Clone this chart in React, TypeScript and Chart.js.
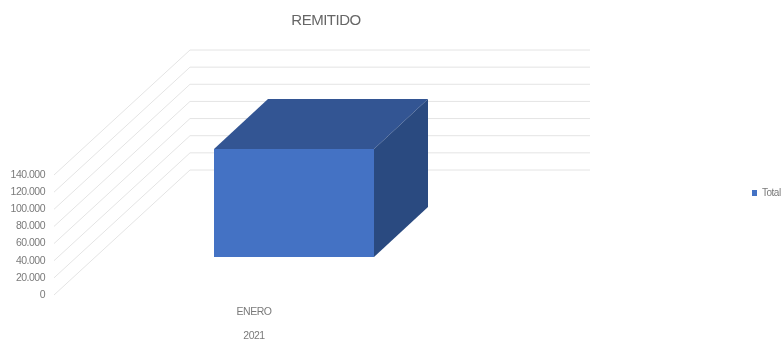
import React, { useEffect, useRef } from "react";
import { Chart, registerables } from "chart.js";

Chart.register(...registerables);

const categories = [["ENERO", "2021"]];
const seriesName = "Total";
const totals = [126000];
const chartTitle = "REMITIDO";

const FONT = "'Liberation Sans', sans-serif";
const TEXT = "#7a7a7a";
const GRID = "#e4e4e4";
const FRONT = "#4472C4";
const TOP = "#335593";
const SIDE = "#2A4A80";

// Oblique projection: the floor runs back by this much from front to rear wall.
const WALL = { dx: 136, dy: -125 };
// Where the bar sits on that floor and how deep it is.
const BAR_OFFSET = { dx: 40, dy: -38 };
const BAR_DEPTH = { dx: 54, dy: -50 };

function fillPoly(ctx: CanvasRenderingContext2D, pts: number[][], color: string) {
  ctx.beginPath();
  pts.forEach(([x, y], i) => (i ? ctx.lineTo(x, y) : ctx.moveTo(x, y)));
  ctx.closePath();
  ctx.fillStyle = color;
  ctx.fill();
}

const perspective = {
  id: "perspective",
  afterLayout(chart: any) {
    // The title and legend sit away from their default slots.
    const { titleBlock, legend } = chart;
    titleBlock.left = 226;
    titleBlock.right = 426;
    legend.left = 750;
    legend.right = 782;
    legend.top = 186;
    legend.bottom = 209;
    legend.adjustHitBoxes();
  },
  beforeDraw(chart: any) {
    // Tightens all chart text into a condensed look.
    chart.ctx.letterSpacing = "-0.5px";
  },
  beforeDatasetsDraw(chart: any) {
    const { ctx, chartArea, scales } = chart;
    ctx.save();
    ctx.strokeStyle = GRID;
    ctx.lineWidth = 1;
    for (const tick of scales.y.ticks) {
      const y = scales.y.getPixelForValue(tick.value);
      ctx.beginPath();
      ctx.moveTo(chartArea.left, y);
      ctx.lineTo(chartArea.left + WALL.dx, y + WALL.dy);
      ctx.lineTo(chartArea.right + WALL.dx, y + WALL.dy);
      ctx.stroke();
    }
    ctx.restore();
  },
  beforeDatasetDraw(chart: any, args: any) {
    const { ctx } = chart;
    const { x, y, base, width } = args.meta.data[0].getProps(["x", "y", "base", "width"], true);
    const l = x - width / 2 + BAR_OFFSET.dx;
    const r = x + width / 2 + BAR_OFFSET.dx;
    const t = y + BAR_OFFSET.dy;
    const b = base + BAR_OFFSET.dy;
    const { dx, dy } = BAR_DEPTH;
    fillPoly(ctx, [[l, t], [r, t], [r + dx, t + dy], [l + dx, t + dy]], TOP);
    fillPoly(ctx, [[r, t], [r + dx, t + dy], [r + dx, b + dy], [r, b]], SIDE);
    ctx.save();
    ctx.translate(BAR_OFFSET.dx, BAR_OFFSET.dy);
  },
  afterDatasetDraw(chart: any) {
    chart.ctx.restore();
  },
};

export default function App() {
  const canvasRef = useRef<HTMLCanvasElement>(null);

  useEffect(() => {
    const chart = new Chart(canvasRef.current!, {
      type: "bar",
      data: {
        labels: categories,
        datasets: [
          {
            label: seriesName,
            data: totals,
            backgroundColor: FRONT,
            categoryPercentage: 1,
            barPercentage: 0.4,
            clip: false,
          },
        ],
      },
      options: {
        responsive: false,
        animation: false,
        layout: { padding: { left: 0, right: 328, top: 0, bottom: 0 } },
        plugins: {
          title: {
            display: true,
            text: chartTitle,
            color: "#666666",
            font: { family: FONT, size: 15, weight: "normal", lineHeight: "20px" },
            padding: { top: 11, bottom: 144 },
          },
          legend: {
            position: "chartArea",
            align: "start",
            labels: {
              color: TEXT,
              font: { family: FONT, size: 10 },
              boxWidth: 5,
              boxHeight: 6,
              padding: 2,
            },
          },
          tooltip: { enabled: false },
        },
        scales: {
          x: {
            grid: { display: false, drawTicks: false },
            border: { display: false },
            afterFit: (s: any) => { s.height = 44; },
            ticks: {
              color: TEXT,
              padding: 5,
              maxRotation: 0,
              font: { family: FONT, size: 10.5, lineHeight: "24px" },
            },
          },
          y: {
            min: 0,
            max: 140000,
            grid: { display: false, drawTicks: false },
            border: { display: false },
            afterFit: (s: any) => { s.width = 54; },
            ticks: {
              stepSize: 20000,
              autoSkip: false,
              color: TEXT,
              padding: 9,
              font: { family: FONT, size: 10.5 },
              callback: (v: any) => Number(v).toLocaleString("es-ES"),
            },
          },
        },
      },
      plugins: [perspective],
    } as any);
    return () => chart.destroy();
  }, []);

  return (
    <div style={{ position: "absolute", left: 0, top: 0, width: 782, height: 339, overflow: "hidden", background: "#fff" }}>
      <canvas ref={canvasRef} width={782} height={339} style={{ display: "block" }} />
    </div>
  );
}
